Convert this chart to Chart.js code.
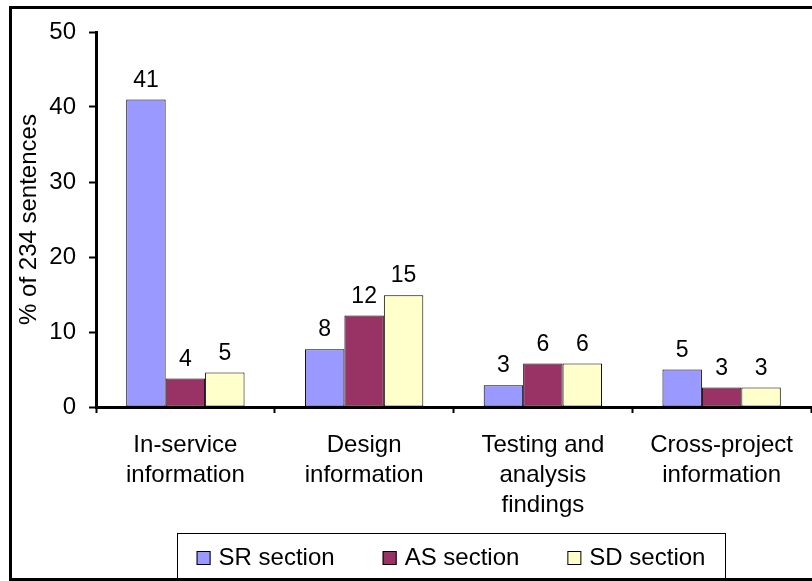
<!DOCTYPE html>
<html>
<head>
<meta charset="utf-8">
<script src="https://cdn.jsdelivr.net/npm/chart.js@4.4.0/dist/chart.umd.min.js"></script>
<style>
  html, body { margin: 0; padding: 0; background: #fff; }
  #wrap { width: 812px; height: 581px; position: relative; }
</style>
</head>
<body>
<div id="wrap"><canvas id="chart" width="812" height="581"></canvas></div>
<script>
// data
const categories = [
  ["In-service", "information"],
  ["Design", "information"],
  ["Testing and", "analysis", "findings"],
  ["Cross-project", "information"],
];
const seriesNames = ["SR section", "AS section", "SD section"];
const seriesColors = ["#9999FF", "#993366", "#FFFFCC"];
const srValues = [41.0, 7.7, 2.9, 5.0];
const asValues = [3.8, 12.2, 5.8, 2.6];
const sdValues = [4.6, 14.9, 5.8, 2.6];
const yTicks = [0, 10, 20, 30, 40, 50];

const FONT = "'Liberation Sans', Arial, sans-serif";
const FS = 24;

// numbers above the bars (rounded like the original)
const valueLabels = {
  id: "valueLabels",
  afterDatasetsDraw(chart) {
    const ctx = chart.ctx;
    ctx.save();
    ctx.font = `23px ${FONT}`;
    ctx.fillStyle = "#000";
    ctx.textAlign = "center";
    ctx.textBaseline = "alphabetic";
    chart.data.datasets.forEach((ds, i) => {
      chart.getDatasetMeta(i).data.forEach((bar, j) => {
        ctx.fillText(String(Math.round(ds.data[j])), bar.x, bar.y - 13);
      });
    });
    ctx.restore();
  },
};

// excel style framed legend + outer border
const frameLegend = {
  id: "frameLegend",
  afterDraw(chart) {
    const ctx = chart.ctx;
    ctx.save();
    ctx.strokeStyle = "#000";
    ctx.lineWidth = 3;
    ctx.beginPath();
    ctx.moveTo(820, 7.5);
    ctx.lineTo(10.5, 7.5);
    ctx.lineTo(10.5, 579.5);
    ctx.lineTo(820, 579.5);
    ctx.stroke();

    ctx.font = `${FS}px ${FONT}`;
    const sw = 14, gapTxt = 8, gapItem = 48;
    const widths = chart.data.datasets.map((ds) => sw + gapTxt + ctx.measureText(ds.label).width);
    const total = widths.reduce((a, b) => a + b, 0) + gapItem * (widths.length - 1);
    const boxL = 177, boxR = 725, boxT = 533, boxB = 580;
    ctx.lineWidth = 1;
    ctx.strokeRect(boxL + 0.5, boxT + 0.5, boxR - boxL, boxB - boxT);
    let x = (boxL + boxR) / 2 - total / 2;
    const cy = 558;
    chart.data.datasets.forEach((ds, i) => {
      ctx.fillStyle = ds.backgroundColor;
      ctx.fillRect(x, cy - sw / 2, sw, sw);
      ctx.strokeRect(x + 0.5, cy - sw / 2 + 0.5, sw - 1, sw - 1);
      ctx.fillStyle = "#000";
      ctx.textBaseline = "middle";
      ctx.textAlign = "left";
      ctx.fillText(ds.label, x + sw + gapTxt, cy);
      x += widths[i] + gapItem;
    });
    ctx.restore();
  },
};

const allSeries = [srValues, asValues, sdValues];

new Chart(document.getElementById("chart"), {
  type: "bar",
  data: {
    labels: categories,
    datasets: allSeries.map((vals, i) => ({
      label: seriesNames[i],
      data: vals,
      backgroundColor: seriesColors[i],
      borderColor: "#000",
      borderWidth: 1,
      borderSkipped: false,
      categoryPercentage: 0.662,
      barPercentage: 1.0,
    })),
  },
  options: {
    responsive: false,
    animation: false,
    events: [],
    layout: { padding: { left: 0, right: 1, top: 32, bottom: 0 } },
    plugins: {
      legend: { display: false },
      tooltip: { enabled: false },
    },
    scales: {
      x: {
        grid: {
          display: true,
          offset: true,
          drawOnChartArea: false,
          drawTicks: true,
          tickLength: 6,
          tickColor: "#000",
          tickWidth: 2,
        },
        border: { display: true, color: "#000", width: 3 },
        ticks: {
          color: "#000",
          font: { family: FONT, size: FS, lineHeight: 1.25 },
          padding: 17,
          maxRotation: 0,
          autoSkip: false,
        },
        afterFit(scale) { scale.height = 174; },
      },
      y: {
        min: 0,
        max: 50,
        afterBuildTicks(scale) { scale.ticks = yTicks.map((v) => ({ value: v })); },
        grid: {
          display: true,
          drawOnChartArea: false,
          drawTicks: true,
          tickLength: 7,
          tickColor: "#000",
          tickWidth: 2,
        },
        border: { display: true, color: "#000", width: 3 },
        ticks: {
          color: "#000",
          font: { family: FONT, size: FS },
          padding: 13,
        },
        title: {
          display: true,
          text: "% of 234 sentences",
          color: "#000",
          font: { family: FONT, size: FS },
          padding: { top: 15, bottom: 0 },
        },
        afterFit(scale) { scale.width = 96; },
      },
    },
  },
  plugins: [valueLabels, frameLegend],
});
</script>
</body>
</html>
